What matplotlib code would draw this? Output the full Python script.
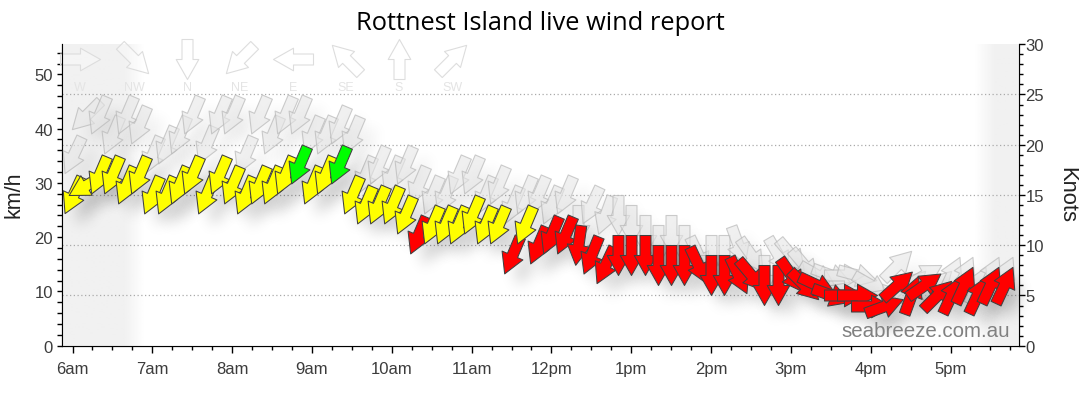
import numpy as np
import matplotlib
matplotlib.use('Agg')
import matplotlib.pyplot as plt
from matplotlib.markers import MarkerStyle
from matplotlib.path import Path
from matplotlib.transforms import Affine2D
from matplotlib.ticker import MultipleLocator

plt.rcParams['font.family'] = ['Liberation Sans', 'DejaVu Sans']

# minutes after 6am for each report
minutes = [0, 10, 20, 30, 40, 50, 60, 70, 80, 90, 100, 110, 120, 130, 140, 150, 160, 170, 180,
           190, 200, 210, 220, 230, 240, 250, 260, 270, 280, 290, 300, 310, 320, 330, 340, 350,
           360, 370, 380, 390, 400, 410, 420, 430, 440, 450, 460, 470, 480, 490, 500, 510, 520,
           530, 540, 550, 560, 570, 580, 590, 600, 610, 620, 630, 640, 650, 660, 670, 680, 690, 700]

# wind in knots
speed = [15, 16, 17, 17, 16, 17, 15, 15, 16, 17, 15, 17, 16, 15, 16, 16, 17, 18, 16,
         17, 18, 15, 14, 14, 14, 13, 11, 12, 12, 12, 13, 12, 12, 9, 12, 10,
         11, 11, 10, 9, 8, 9, 9, 9, 8, 8, 8, 8, 7, 7, 7, 7, 6,
         6, 7, 6, 6, 5, 5, 5, 4, 4, 6, 5, 6, 5, 5, 6, 5, 6, 6]
gust = [19, 23, 23, 21, 23, 22, 19, 20, 21, 23, 20, 23, 23, 19, 23, 21, 23, 23, 21,
        21, 22, 21, 17, 18, 17, 18, 16, 15, 15, 17, 17, 15, 16, 14, 15, 15,
        14, 15, 12, 14, 13, 13, 12, 11, 10, 11, 10, 9, 9, 9, 10, 9, 7,
        9, 9, 8, 7, 7, 7, 7, 6, 5, 8, 6, 7, 6, 7, 7, 6, 7, 7]

# direction the wind comes from, degrees
direction = [25, 60, 23, 23, 23, 23, 23, 23, 23, 23, 23, 23, 23, 23, 23, 23, 23, 23, 23,
             23, 23, 23, 23, 23, 23, 23, 23, 23, 23, 23, 23, 23, 23, 23, 23, 23,
             23, 23, 8, 22, 25, 0, 0, 0, 0, 0, 0, 335, 0, 0, 335, 320, 0,
             0, 325, 315, 295, 290, 270, 270, 270, 250, 228, 200, 235, 225, 205, 205, 205, 205, 205]
gust_dir = [25, 45, 23, 23, 23, 23, 23, 23, 23, 23, 23, 23, 23, 23, 23, 23, 23, 23, 23,
            23, 23, 23, 23, 23, 23, 23, 23, 23, 23, 23, 23, 23, 23, 23, 23, 23,
            23, 23, 0, 25, 20, 0, 0, 0, 0, 0, 0, 335, 0, 0, 340, 325, 0,
            330, 320, 320, 300, 290, 270, 285, 300, 260, 225, 225, 240, 225, 205, 205, 205, 205, 205]

legend_names = ['W', 'NW', 'N', 'NE', 'E', 'SE', 'S', 'SW']
legend_dirs = [270, 315, 0, 45, 90, 135, 180, 225]
hour_labels = ['6am', '7am', '8am', '9am', '10am', '11am', '12pm', '1pm', '2pm', '3pm', '4pm', '5pm']

W, H = 1080, 414
AX_L, AX_R, AX_T, AX_B = 61.5, 1018.5, 44.5, 346.7
PX_HOUR, PX_KNOT = 79.82, 10.05
fig = plt.figure(figsize=(W / 100, H / 100), dpi=100)
ax = fig.add_axes([AX_L / W, 1 - AX_B / H, (AX_R - AX_L) / W, (AX_B - AX_T) / H])
ax2 = ax.twinx()

x_min = 6 + (AX_L - 72.5) / PX_HOUR
x_max = 6 + (AX_R - 72.5) / PX_HOUR
knot_max = (AX_B - AX_T) / PX_KNOT

# arrow pointing up, 40px long, 22px head, 11px shaft
arrow = Path([(-5.5, -20), (5.5, -20), (5.5, 0), (11.3, 0), (0, 20), (-11.3, 0), (-5.5, 0), (-5.5, -20), (-5.5, -20)],
             [Path.MOVETO] + [Path.LINETO] * 7 + [Path.CLOSEPOLY])
MS = 40 * 72 / 100


def arrow_marker(frm, off=0):
    # frm = where the wind comes from, so it travels to frm + 180
    t = Affine2D().rotate_deg(-(frm + 180)).translate(off / 40, -off / 40)
    return MarkerStyle(arrow, transform=t)


def colour(k):
    if k >= 18:
        return '#00ff00'
    if k >= 12:
        return '#ffff00'
    return '#ff0000'


def soft_shadow(im, dpi):
    # gaussian blur of the alpha channel, used as agg_filter
    pad = 20
    a = np.pad(im[:, :, 3], pad)
    kx = np.arange(-pad, pad + 1)
    kern = np.exp(-kx ** 2 / (2 * 7.0 ** 2))
    kern = kern / kern.sum()
    a = np.apply_along_axis(lambda r: np.convolve(r, kern, mode='same'), 0, a)
    a = np.apply_along_axis(lambda r: np.convolve(r, kern, mode='same'), 1, a)
    out = np.zeros(a.shape + (4,))
    out[:, :, 3] = a
    return out, -pad, -pad


hours = [6 + m / 60 for m in minutes]

# grey night bands
xs = np.linspace(x_min, x_max, 960)
px = 72.5 + (xs - 6) * PX_HOUR
left = np.clip((px - 124) / 20, 0, 1)
right = np.clip((993 - px) / 20, 0, 1)
band = 0.945 + 0.055 * np.minimum(left, right)
ax2.imshow(band[None, :], cmap='gray', vmin=0, vmax=1, aspect='auto', zorder=0,
           extent=[x_min, x_max, 0, knot_max], interpolation='bilinear')

ax2.set_xlim(x_min, x_max)
ax2.set_ylim(0, knot_max)
ax.set_ylim(0, knot_max * 1.852)
ax.set_xlim(x_min, x_max)
ax.patch.set_visible(False)

for k in [5, 10, 15, 20, 25]:
    ax2.axhline(k, color='#aaaaaa', lw=0.9, ls=(0, (1, 2)), zorder=1)

# legend of directions along the top
legend_x = [80, 134, 187, 240, 293, 346, 399, 452]
for name, d, lx in zip(legend_names, legend_dirs, legend_x):
    fx = (lx - AX_L) / (AX_R - AX_L)
    ax2.plot(fx, 0.95, transform=ax2.transAxes, marker=arrow_marker(d), ms=MS, mfc=(1, 1, 1, 0.3),
             mec='#dddddd', mew=0.8, clip_on=False, zorder=2)
    ax2.text(fx, 0.855, name, transform=ax2.transAxes, color='#e4e4e4', fontsize=9,
             ha='center', va='center', zorder=2)

# gust arrows first, they sit behind the wind arrows
for t, k, d in zip(hours, gust, gust_dir):
    s, = ax2.plot(t, k, marker=arrow_marker(d, 12), ms=MS, mfc=(0, 0, 0, 0.07), mec='none', zorder=3)
    s.set_agg_filter(soft_shadow)
for t, k, d in zip(hours, gust, gust_dir):
    ax2.plot(t, k, marker=arrow_marker(d), ms=MS, mfc=(0.9, 0.9, 0.9, 0.6),
             mec=(0.72, 0.72, 0.72, 0.7), mew=0.8, zorder=4)

for t, k, d in zip(hours, speed, direction):
    s, = ax2.plot(t, k, marker=arrow_marker(d, 12), ms=MS, mfc=(0, 0, 0, 0.16), mec='none', zorder=5)
    s.set_agg_filter(soft_shadow)
for i, (t, k, d) in enumerate(zip(hours, speed, direction)):
    ax2.plot(t, k, marker=arrow_marker(d), ms=MS, mfc=colour(k), mec='#404040', mew=0.75,
             zorder=6 + i * 0.01, clip_on=False)

# axes and ticks
ax.set_xticks(range(6, 18))
ax.set_xticklabels(hour_labels)
ax.xaxis.set_minor_locator(MultipleLocator(0.25))
ax.yaxis.set_major_locator(MultipleLocator(10))
ax.yaxis.set_minor_locator(MultipleLocator(2))
ax2.yaxis.set_major_locator(MultipleLocator(5))
ax2.yaxis.set_minor_locator(MultipleLocator(1))
ax2.xaxis.set_visible(False)
for a in (ax, ax2):
    a.spines['top'].set_visible(False)
    a.tick_params(which='major', length=3.7, width=1, labelsize=12, labelcolor='#3c3c3c', pad=2.4)
    a.tick_params(which='minor', length=3.3, width=1)
ax.tick_params(axis='x', which='major', length=5, pad=6)
ax.tick_params(axis='x', which='minor', length=3)
ax2.tick_params(axis='y', which='major', length=4, pad=1)
ax2.tick_params(axis='y', which='minor', length=2.6)

fig.text(14 / W, 1 - 195 / H, 'km/h', fontsize=15.5, color='#222222', rotation=90, ha='center', va='center')
fig.text(1067 / W, 1 - 195 / H, 'Knots', fontsize=15.8, color='#222222', rotation=270, ha='center', va='center')
fig.text(540 / W, 1 - 23 / H, 'Rottnest Island live wind report', fontsize=18.3, color='black',
         ha='center', va='center', family='Open Sans')
ax2.text((1010 - AX_L) / (AX_R - AX_L), 0.05, 'seabreeze.com.au', transform=ax2.transAxes, fontsize=14.8,
         color='#808080', ha='right', va='center', zorder=20)

fig.savefig('out.png', dpi=100)
